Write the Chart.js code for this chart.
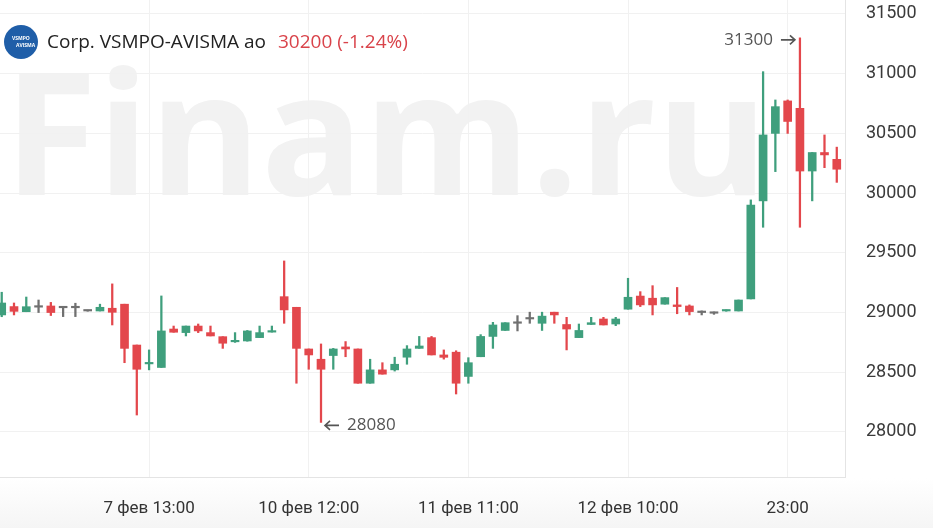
<!DOCTYPE html>
<html>
<head>
<meta charset="utf-8">
<script src="https://cdn.jsdelivr.net/npm/chart.js@4.4.1/dist/chart.umd.min.js"></script>
<style>
  html, body { margin: 0; padding: 0; background: #fff; }
  #wrap { width: 933px; height: 528px; position: relative; }
</style>
</head>
<body>
<div id="wrap"><canvas id="chart" width="933" height="528"></canvas></div>
<script>
/* VSMPO-AVISMA hourly candles */

const OPEN  = [28980, 29050, 29007, 29045, 29055, 29040, 29040, 29013, 29013, 29036,
               29070, 28728, 28570, 28540, 28862, 28832, 28887, 28832, 28798, 28755,
               28762, 28790, 28836, 29133, 29044, 28695, 28609, 28640, 28712, 28695,
               28408, 28520, 28520, 28626, 28700, 28790, 28645, 28668, 28465, 28630,
               28800, 28850, 28910, 28946, 28910, 29003, 28900, 28790, 28900, 28946,
               28904, 29028, 29138, 29120, 29070, 29064, 29055, 29000, 28994, 29013,
               29013, 29114, 29935, 30500, 30772, 30710, 30185, 30340, 30283];
const HIGH  = [29170, 29080, 29130, 29105, 29085, 29042, 29078, 29015, 29070, 29240,
               29070, 28728, 28687, 29139, 28887, 28887, 28904, 28887, 28798, 28832,
               28850, 28887, 28887, 29432, 29044, 28695, 28737, 28700, 28757, 28695,
               28609, 28580, 28626, 28723, 28800, 28800, 28687, 28680, 28622, 28815,
               28918, 28915, 28974, 29003, 29003, 29003, 28960, 28904, 28960, 28960,
               28960, 29287, 29175, 29225, 29125, 29210, 29064, 29014, 29005, 29022,
               29105, 29943, 31017, 30780, 30780, 31300, 30340, 30487, 30385];
const LOW   = [28965, 28980, 29007, 29000, 28975, 28966, 28966, 29011, 29013, 28896,
               28580, 28142, 28520, 28540, 28835, 28804, 28832, 28804, 28700, 28750,
               28760, 28790, 28836, 28910, 28408, 28525, 28080, 28525, 28630, 28408,
               28408, 28484, 28510, 28567, 28700, 28645, 28610, 28318, 28408, 28630,
               28700, 28850, 28846, 28910, 28850, 28910, 28687, 28790, 28900, 28896,
               28890, 29028, 29050, 28980, 29070, 28990, 28980, 28980, 28985, 29011,
               29013, 29114, 29714, 30180, 30500, 29714, 29935, 30213, 30090];
const CLOSE = [29080, 29010, 29049, 29045, 29000, 29040, 29040, 29013, 29044, 29002,
               28700, 28525, 28580, 28846, 28835, 28887, 28846, 28804, 28743, 28760,
               28846, 28832, 28846, 29022, 28700, 28645, 28525, 28695, 28695, 28408,
               28520, 28484, 28567, 28695, 28720, 28645, 28625, 28408, 28580, 28800,
               28896, 28915, 28910, 28946, 28970, 28980, 28862, 28850, 28915, 28896,
               28946, 29128, 29064, 29064, 29125, 29050, 29008, 29000, 28994, 29020,
               29105, 29900, 30487, 30724, 30600, 30185, 30340, 30320, 30200];

const X_TICK_POS    = [12, 25, 38, 51, 64];
const X_TICK_LABELS = ['7 фев 13:00', '10 фев 12:00', '11 фев 11:00', '12 фев 10:00', '23:00'];
const Y_TICKS       = [28000, 28500, 29000, 29500, 30000, 30500, 31000, 31500];

const TITLE      = 'Corp. VSMPO-AVISMA ao';
const LAST_PRICE = '30200 (-1.24%)';

const GREEN = '#3f9f7d';
const RED   = '#e3474c';
const GREY  = '#707070';
const GRID  = '#f1f1f1';
const EDGE  = '#e4e4e4';

function colorOf(i) {
  if (CLOSE[i] > OPEN[i]) return GREEN;
  if (CLOSE[i] < OPEN[i]) return RED;
  return GREY;
}

const bodies = OPEN.map((o, i) => ({ x: i, y: [o, CLOSE[i]] }));
const wicks  = LOW.map((l, i) => ({ x: i, y: [l, HIGH[i]] }));

// small horizontal arrow, dir = 1 points right, -1 points left
function arrow(ctx, x0, x1, y, dir) {
  const tip = dir > 0 ? x1 : x0;
  ctx.beginPath();
  ctx.moveTo(x0, y);
  ctx.lineTo(x1, y);
  ctx.moveTo(tip - dir * 5, y - 4.5);
  ctx.lineTo(tip, y);
  ctx.lineTo(tip - dir * 5, y + 4.5);
  ctx.stroke();
}

/* watermark, header and min/max notes */
const decor = {
  id: 'decor',
  beforeDraw(chart) {
    const { ctx } = chart;
    ctx.save();
    const g = ctx.createLinearGradient(0, 478, 0, 528);
    g.addColorStop(0, '#ffffff');
    g.addColorStop(1, '#f5f5f5');
    ctx.fillStyle = g;
    ctx.fillRect(0, 478, 933, 50);
    ctx.fillStyle = '#f2f2f2';
    ctx.font = 'bold 170px "Open Sans", sans-serif';
    ctx.textBaseline = 'alphabetic';
    ctx.textAlign = 'left';
    ctx.fillText('Finam.ru', 4, 195);
    ctx.restore();
  },
  afterDraw(chart) {
    const { ctx, scales } = chart;
    const xs = scales.x, ys = scales.y;
    ctx.save();
    // logo
    ctx.fillStyle = '#1f5ea8';
    ctx.beginPath();
    ctx.arc(21, 42, 17, 0, Math.PI * 2);
    ctx.fill();
    ctx.fillStyle = '#ffffff';
    ctx.font = 'bold 5px "Open Sans", sans-serif';
    ctx.textAlign = 'left';
    ctx.textBaseline = 'middle';
    ctx.fillText('VSMPO', 12, 39);
    ctx.fillText('AVISMA', 16, 46);
    // title
    ctx.font = '19px "Open Sans", sans-serif';
    ctx.fillStyle = '#222222';
    ctx.fillText(TITLE, 47, 43);
    const w = ctx.measureText(TITLE).width;
    ctx.fillStyle = '#d9434a';
    ctx.fillText(LAST_PRICE, 47 + w + 12, 43);
    // extremes
    let hi = 0, lo = 0;
    HIGH.forEach((v, i) => { if (v > HIGH[hi]) hi = i; });
    LOW.forEach((v, i) => { if (v < LOW[lo]) lo = i; });
    ctx.fillStyle = '#555555';
    ctx.strokeStyle = '#555555';
    ctx.lineWidth = 1.6;
    ctx.font = '17px "Open Sans", sans-serif';
    const hx = xs.getPixelForValue(hi) - 5, hy = ys.getPixelForValue(HIGH[hi]) + 2;
    arrow(ctx, hx - 14, hx, hy, 1);
    ctx.textAlign = 'right';
    ctx.fillText(String(HIGH[hi]), hx - 22, hy);
    const lx = xs.getPixelForValue(lo) + 4, ly = ys.getPixelForValue(LOW[lo]) + 3;
    arrow(ctx, lx, lx + 14, ly, -1);
    ctx.textAlign = 'left';
    ctx.fillText(String(LOW[lo]), lx + 22, ly);
    ctx.restore();
  }
};

new Chart(document.getElementById('chart'), {
  type: 'bar',
  data: {
    datasets: [
      {
        label: 'body',
        data: bodies,
        order: 1,
        barThickness: 8,
        minBarLength: 1.5,
        backgroundColor: (c) => colorOf(c.dataIndex),
      },
      {
        label: 'wick',
        data: wicks,
        order: 2,
        barThickness: 1.6,
        minBarLength: 1,
        backgroundColor: (c) => colorOf(c.dataIndex),
      },
    ],
  },
  options: {
    responsive: false,
    animation: false,
    layout: { padding: 0 },
    plugins: { legend: { display: false }, tooltip: { enabled: false } },
    datasets: { bar: { grouped: false } },
    scales: {
      x: {
        type: 'linear',
        offset: false,
        min: -0.14,
        max: 68.67,
        afterBuildTicks: (s) => { s.ticks = X_TICK_POS.map((v) => ({ value: v })); },
        afterFit: (s) => { s.height = 51; s.paddingLeft = 0; s.paddingRight = 0; },
        grid: { color: GRID, drawTicks: false, offset: false },
        border: { display: true, color: EDGE },
        ticks: {
          padding: 22,
          maxRotation: 0,
          autoSkip: false,
          color: '#333333',
          font: { family: 'Roboto, sans-serif', size: 17 },
          callback: (v) => X_TICK_LABELS[X_TICK_POS.indexOf(v)],
        },
      },
      y: {
        position: 'right',
        min: 27623,
        max: 31617,
        afterBuildTicks: (s) => { s.ticks = Y_TICKS.map((v) => ({ value: v })); },
        afterFit: (s) => { s.width = 88; s.paddingTop = 0; s.paddingBottom = 0; },
        grid: { color: GRID, drawTicks: false },
        border: { display: true, color: EDGE },
        ticks: {
          padding: 21,
          color: '#3a3a3a',
          font: { family: 'Roboto, sans-serif', size: 18 },
          callback: (v) => String(v),
        },
      },
    },
  },
  plugins: [decor],
});
</script>
</body>
</html>
